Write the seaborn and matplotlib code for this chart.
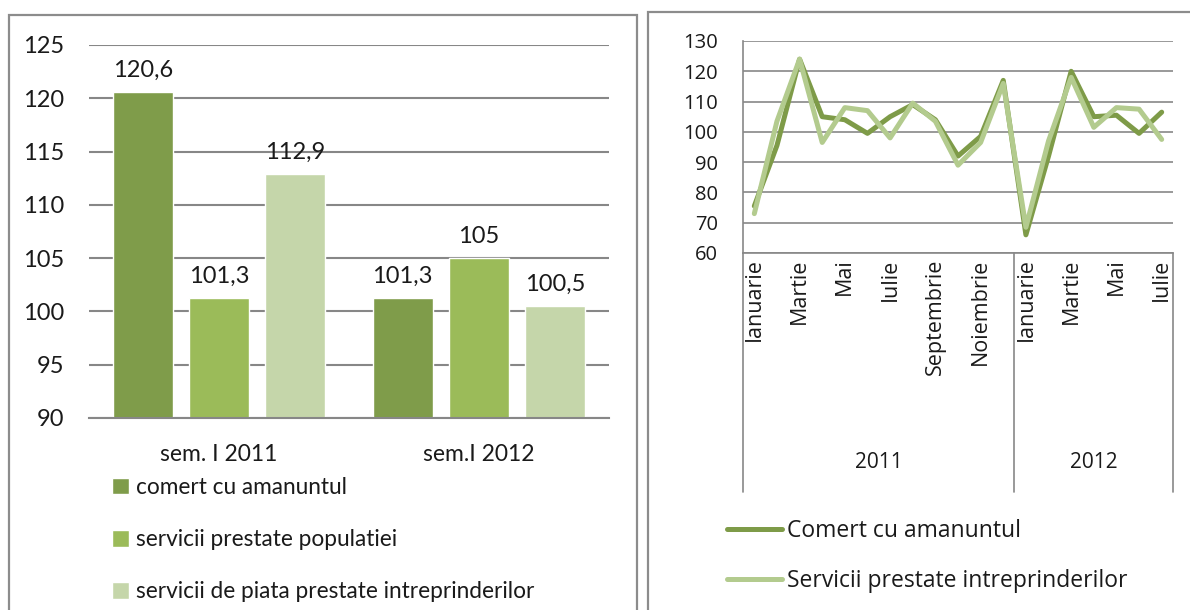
import numpy as np
import pandas as pd
import seaborn as sns
import matplotlib.pyplot as plt
from matplotlib.patches import Rectangle
from matplotlib.lines import Line2D

# left panel: semester indices
semesters = ['sem. I 2011', 'sem.I 2012']
bar_series = ['comert cu amanuntul', 'servicii prestate populatiei',
              'servicii de piata prestate intreprinderilor']
comert_sem = [120.6, 101.3]
populatie_sem = [101.3, 105.0]
intreprinderi_sem = [112.9, 100.5]

# right panel: monthly indices, Jan 2011 - Jul 2012
months = ['Ianuarie', 'Februarie', 'Martie', 'Aprilie', 'Mai', 'Iunie', 'Iulie',
          'August', 'Septembrie', 'Octombrie', 'Noiembrie', 'Decembrie',
          'Ianuarie', 'Februarie', 'Martie', 'Aprilie', 'Mai', 'Iunie', 'Iulie']
years = ['2011', '2012']
line_series = ['Comert cu amanuntul', 'Servicii prestate intreprinderilor']
comert_month = [75.5, 95.5, 124.0, 105.0, 104.0, 99.5, 105.0, 109.0, 104.0, 92.0,
                98.5, 117.0, 66.0, 92.0, 120.0, 105.0, 105.5, 99.5, 106.5]
intrepr_month = [73.0, 103.5, 124.0, 96.5, 108.0, 107.0, 98.0, 109.5, 103.5, 89.0,
                 96.5, 116.0, 68.5, 97.0, 118.0, 101.5, 108.0, 107.5, 97.5]

bar_colors = ['#7F9C4A', '#9BBB59', '#C5D6AA']
line_colors = ['#7E9B48', '#B3CB8E']
grid_c = '#878787'
frame_c = '#8C8C8C'

sns.set_theme(style='white')
plt.rcParams['font.family'] = ['Lato', 'DejaVu Sans']
plt.rcParams['text.color'] = '#1a1a1a'
plt.rcParams['xtick.color'] = '#1a1a1a'
plt.rcParams['ytick.color'] = '#1a1a1a'
right_font = ['Open Sans', 'DejaVu Sans']

W, H = 1190, 610
fig = plt.figure(figsize=(W / 100, H / 100), dpi=100)


def fx(px):
    return px / W


def fy(py):
    return 1 - py / H


# panel frames
fig.patches.append(Rectangle((fx(9), fy(640)), fx(628), fy(15) - fy(640), transform=fig.transFigure,
                             fill=False, edgecolor=frame_c, lw=1.6))
fig.patches.append(Rectangle((fx(648), fy(640)), fx(560), fy(12) - fy(640), transform=fig.transFigure,
                             fill=False, edgecolor=frame_c, lw=1.6))

# ---------- left: bar chart ----------
ax1 = fig.add_axes([fx(89), fy(418), fx(609 - 89), fy(45) - fy(418)])
df_bar = pd.DataFrame({
    'sem': semesters * 3,
    'serie': [bar_series[0]] * 2 + [bar_series[1]] * 2 + [bar_series[2]] * 2,
    'val': comert_sem + populatie_sem + intreprinderi_sem,
})
sns.barplot(data=df_bar, x='sem', y='val', hue='serie', palette=bar_colors,
            width=0.88, gap=0.215, ax=ax1, legend=True, saturation=1)
ax1.set_ylim(90, 125)
ax1.set_xlim(-0.5, 1.5)
ax1.set_yticks(range(90, 126, 5))
ax1.yaxis.grid(True, color=grid_c, lw=1.5)
ax1.set_axisbelow(True)
for s in ['top', 'right', 'left']:
    ax1.spines[s].set_visible(False)
ax1.spines['bottom'].set_color(grid_c)
ax1.spines['bottom'].set_linewidth(1.5)
ax1.tick_params(axis='y', labelsize=17, length=0, pad=18)
ax1.tick_params(axis='x', labelsize=16.5, length=0, pad=19)
ax1.set_xlabel('')
ax1.set_ylabel('')
for cont in ax1.containers:
    labels = [f'{b.get_height():g}'.replace('.', ',') for b in cont]
    ax1.bar_label(cont, labels=labels, padding=8, fontsize=17)
h, l = ax1.get_legend_handles_labels()
ax1.get_legend().remove()
fig.legend(h, l, loc='upper left', bbox_to_anchor=(fx(112), fy(477)), frameon=False,
           fontsize=16.3, handlelength=0.75, handleheight=0.75, handletextpad=0.3,
           labelspacing=1.38, borderaxespad=0, borderpad=0)

# ---------- right: line chart ----------
ax2 = fig.add_axes([fx(743), fy(253), fx(1173 - 743), fy(41) - fy(253)])
n = len(months)
df_line = pd.DataFrame({
    'x': list(range(n)) * 2,
    'serie': [line_series[0]] * n + [line_series[1]] * n,
    'val': comert_month + intrepr_month,
})
sns.lineplot(data=df_line, x='x', y='val', hue='serie', palette=line_colors,
             linewidth=3.6, ax=ax2, legend=False)
ax2.set_xlim(-0.5, n - 0.5)
ax2.set_ylim(60, 130)
ax2.yaxis.grid(True, color=grid_c, lw=1.2)
ax2.set_axisbelow(True)
for s in ['top', 'right']:
    ax2.spines[s].set_visible(False)
for s in ['left', 'bottom']:
    ax2.spines[s].set_color(grid_c)
    ax2.spines[s].set_linewidth(1.2)
ax2.set_xticks(range(0, n, 2))
ax2.set_xticklabels(months[::2], rotation=90, family=right_font)
ax2.set_yticks(range(60, 131, 10))
ax2.set_yticklabels([str(v) for v in range(60, 131, 10)], family=right_font)
ax2.tick_params(axis='x', labelsize=15.5, length=0, pad=4)
ax2.tick_params(axis='y', labelsize=14.5, length=0, pad=18)
ax2.set_xlabel('')
ax2.set_ylabel('')

# category table below the line chart
sep_px = [743, 1014, 1173]
for px in sep_px:
    fig.add_artist(Line2D([fx(px), fx(px)], [fy(253), fy(492)], transform=fig.transFigure,
                          color=grid_c, lw=1.2))
for yr, (a, b) in zip(years, [(743, 1014), (1014, 1173)]):
    fig.text(fx((a + b) / 2), fy(463), yr, ha='center', va='center', fontsize=15, family=right_font)

lh = [Line2D([], [], color=c, lw=3.6) for c in line_colors]
fig.legend(lh, line_series, loc='upper left', bbox_to_anchor=(fx(727), fy(519)), frameon=False,
           handlelength=2.4, handletextpad=0.2, labelspacing=1.15,
           borderaxespad=0, borderpad=0, prop={'family': right_font, 'size': 16.5})

fig.savefig('out.png', dpi=100)
